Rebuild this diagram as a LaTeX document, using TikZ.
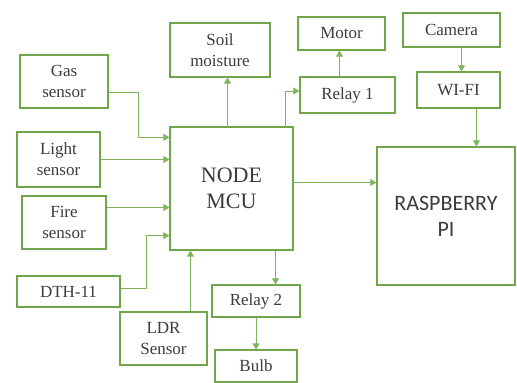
\documentclass[tikz,border=0pt]{standalone}
\usepackage{fontspec}
\newfontfamily\labelfont{Liberation Serif}
\newfontfamily\pifont{Carlito}
\usepackage{xcolor}
\usepackage{tikz}
\usetikzlibrary{arrows.meta}

\definecolor{boxgreen}{RGB}{112,165,74}
\definecolor{linegreen}{RGB}{125,182,88}
\definecolor{txtgray}{RGB}{60,60,60}

\begin{document}
\begin{tikzpicture}[
 x=1pt,y=-1pt,
 box/.style={draw=boxgreen,line width=1.3pt,fill=white,align=center,inner sep=1pt,
   text=txtgray,font=\labelfont\fontsize{17}{21}\selectfont},
 bigbox/.style={box,font=\labelfont\fontsize{22}{26}\selectfont},
 arr/.style={-{Triangle[length=6pt,width=7pt]},draw=linegreen,line width=0.9pt}
]
\useasboundingbox (0,0) rectangle (517,383);
% sensors on the left
\node[box,minimum width=88pt,minimum height=53pt] (gas) at (64,81.5) {Gas\\sensor};
\node[box,minimum width=83pt,minimum height=55pt] (light) at (58.5,159.5) {Light\\sensor};
\node[box,minimum width=84pt,minimum height=53pt] (fire) at (64,222.5) {Fire\\sensor};
\node[box,minimum width=103pt,minimum height=31pt] (dth) at (68.5,291.5) {DTH-11};
\node[box,minimum width=87pt,minimum height=53pt] (ldr) at (163.5,338.5) {LDR\\Sensor};
% controller
\node[bigbox,minimum width=123pt,minimum height=123pt] (mcu) at (231.5,188.5) {NODE\\MCU};
\node[box,minimum width=100pt,minimum height=54pt] (soil) at (220,50) {Soil\\moisture};
\node[box,minimum width=95pt,minimum height=36pt] (relay1) at (347.5,95) {Relay 1};
\node[box,minimum width=87pt,minimum height=33pt] (motor) at (341.5,33.5) {Motor};
\node[box,minimum width=88pt,minimum height=32pt] (relay2) at (256,301) {Relay 2};
\node[box,minimum width=82pt,minimum height=32pt] (bulb) at (256,366) {Bulb};
% pi side
\node[box,minimum width=97pt,minimum height=34pt] (camera) at (451.5,30) {Camera};
\node[box,minimum width=83pt,minimum height=36pt] (wifi) at (458.5,90) {WI-FI};
\node[bigbox,minimum width=138pt,minimum height=138pt,font=\pifont\fontsize{22}{26}\selectfont] (rpi) at (446,216) {RASPBERRY\\PI};

\draw[arr] ([yshift=-11pt]gas.east) -- ++(30,0) |- ([yshift=-11pt]mcu.north west);
\draw[arr] (light.east) -- (light.east -| mcu.west);
\draw[arr] ([yshift=15pt]fire.east) -- ([yshift=15pt]fire.east -| mcu.west);
\draw[arr] ([yshift=3pt]dth.east) -- ++(26,0) |- ([yshift=15pt]mcu.south west);
\draw[arr] ([xshift=27pt]ldr.north) -- ([xshift=27pt]ldr.north |- mcu.south);
\draw[arr] ([xshift=-4pt]mcu.north) -- ([xshift=-4pt]mcu.north |- soil.south);
\draw[arr] ([xshift=-8pt]mcu.north east) |- ([yshift=4pt]relay1.west);
\draw[arr] ([xshift=-8pt]relay1.north) -- ([xshift=-8pt]relay1.north |- motor.south);
\draw[arr] ([xshift=44pt]mcu.south) -- ([xshift=44pt]mcu.south |- relay2.north);
\draw[arr] (relay2.south) -- (bulb.north);
\draw[arr] ([yshift=6pt]mcu.east) -- ([yshift=6pt]mcu.east -| rpi.west);
\draw[arr] ([xshift=10pt]camera.south) -- ([xshift=10pt]camera.south |- wifi.north);
\draw[arr] ([xshift=18pt]wifi.south) -- ([xshift=18pt]wifi.south |- rpi.north);
\end{tikzpicture}
\end{document}
